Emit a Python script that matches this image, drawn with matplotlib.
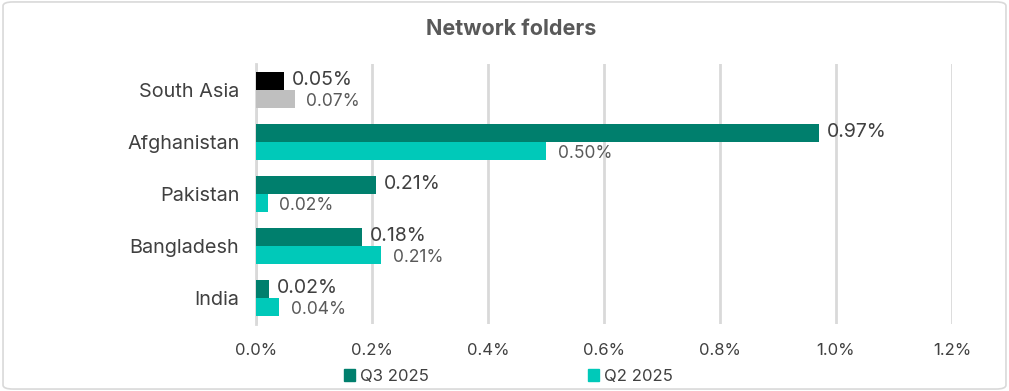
import matplotlib.pyplot as plt
from matplotlib.patches import FancyBboxPatch
import numpy as np

plt.rcParams['font.family'] = ['Inter', 'DejaVu Sans']

regions = ['South Asia', 'Afghanistan', 'Pakistan', 'Bangladesh', 'India']
q3 = [0.05, 0.97, 0.21, 0.18, 0.02]
q2 = [0.07, 0.50, 0.02, 0.21, 0.04]
q3_bar = [0.048, 0.97, 0.207, 0.183, 0.022]
q2_bar = [0.067, 0.50, 0.02, 0.216, 0.04]

c_q3 = '#007f6d'
c_q2 = '#00c9b9'

fig = plt.figure(figsize=(10.09, 3.91), dpi=100)
fig.patches.append(FancyBboxPatch((0.003, 0.005), 0.994, 0.99, boxstyle='round,pad=0,rounding_size=0.01',
                                  transform=fig.transFigure, fc='none', ec='#d9d9d9', lw=1.2, zorder=10))
ax = fig.add_axes([0.2537, 0.1714, 0.6898, 0.665])

y = np.arange(len(regions))
h = 0.35
cols3 = ['#000000'] + [c_q3] * 4
cols2 = ['#bfbfbf'] + [c_q2] * 4
ax.barh(y - h / 2, q3_bar, height=h, color=cols3, zorder=3)
ax.barh(y + h / 2, q2_bar, height=h, color=cols2, zorder=3)

for i in range(len(regions)):
    ax.text(q3_bar[i] + 0.014, y[i] - h / 2 - 0.02, f'{q3[i]:.2f}%', va='center', ha='left',
            fontsize=14, color='#404040')
    ax.text(q2_bar[i] + 0.02, y[i] + h / 2 + 0.05, f'{q2[i]:.2f}%', va='center', ha='left',
            fontsize=12.5, color='#595959')

ax.set_xlim(0, 1.2)
ax.set_ylim(len(regions) - 0.5, -0.5)
ax.set_xticks(np.arange(0, 1.21, 0.2))
ax.set_xticklabels([f'{v:.1f}%' for v in np.arange(0, 1.21, 0.2)])
ax.set_yticks(y)
ax.set_yticklabels(regions)
ax.tick_params(axis='y', length=0, labelsize=14.3, colors='#404040', pad=12)
ax.tick_params(axis='x', length=0, labelsize=12, colors='#404040', pad=14)
ax.grid(axis='x', color='#d9d9d9', lw=2, zorder=0)
for s in ['top', 'right', 'bottom']:
    ax.spines[s].set_visible(False)
ax.spines['left'].set_color('#d9d9d9')
ax.spines['left'].set_linewidth(2)

fig.text(0.507, 0.926, 'Network folders', ha='center', va='center', fontsize=15.5,
         fontweight='bold', color='#595959')

handles = [plt.Rectangle((0, 0), 1, 1, color=c_q3), plt.Rectangle((0, 0), 1, 1, color=c_q2)]
fig.legend(handles, ['Q3 2025', 'Q2 2025'], loc='center', bbox_to_anchor=(0.504, 0.037), ncol=2,
           frameon=False, fontsize=12, handlelength=0.7, handleheight=0.7, handletextpad=0.3,
           columnspacing=9.5, labelcolor='#404040')

fig.savefig('out.png', dpi=100)
